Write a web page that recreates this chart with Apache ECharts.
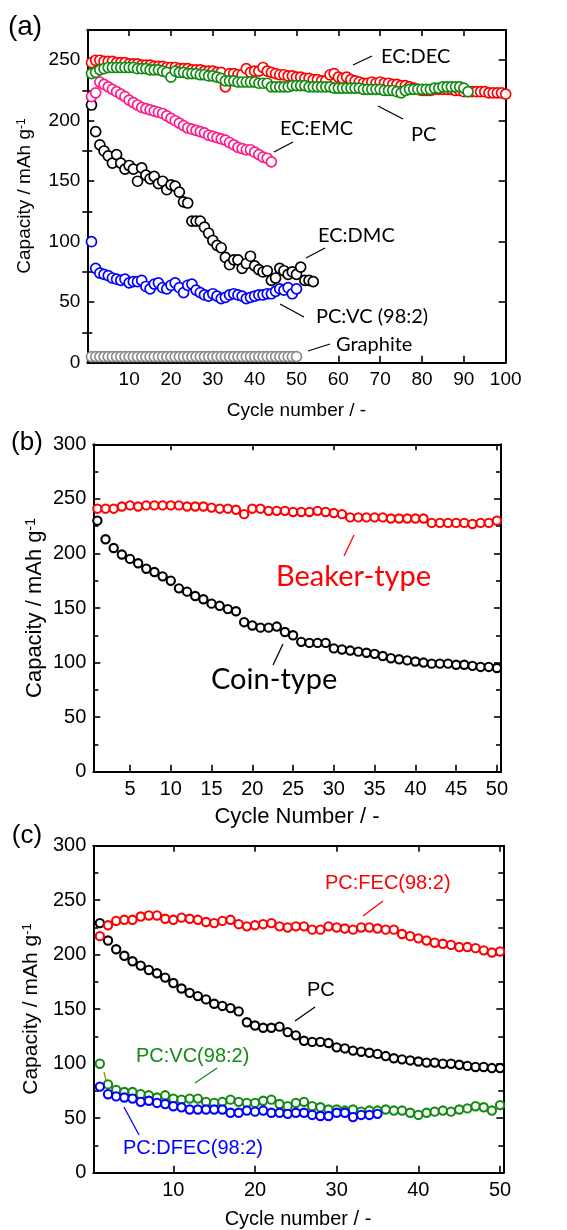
<!DOCTYPE html>
<html>
<head>
<meta charset="utf-8">
<script src="https://cdn.jsdelivr.net/npm/echarts@6/dist/echarts.min.js"></script>
<style>
  html, body { margin: 0; padding: 0; background: #fff; }
  #chart { width: 567px; height: 1230px; }
</style>
</head>
<body>
<div id="chart"></div>
<script>
// ---- (a) discharge capacity vs cycle for several electrolytes ----
const ecDec = [248,250,250,249,249,249,248,248,248,247,
  247,247,246,246,246,245,245,245,244,244,
  244,243,243,243,242,242,242,241,241,241,
  240,240,228,239,239,238,238,243,240,241,
  241,244,241,240,239,238,238,237,237,236,
  236,235,235,234,234,233,233,238,239,236,
  235,236,234,233,232,231,231,232,231,232,
  231,231,230,230,229,229,228,227,226,225,
  225,225,226,226,226,226,226,225,225,224,
  224,224,224,224,224,223,223,223,223,222];
const pcA = [239,240,242,243,244,244,244,244,244,244,
  244,243,243,243,242,242,242,241,240,236,
  241,240,240,239,239,239,238,238,237,237,
  236,235,233,233,233,232,232,232,232,232,
  231,231,231,228,228,228,228,228,229,229,
  229,229,228,228,228,228,228,228,227,227,
  227,227,227,227,227,226,226,226,226,226,
  225,225,225,224,223,225,226,226,226,226,
  226,226,227,227,228,228,228,228,228,227,
  224];
const ecEmc = [220,223,232,230,228,226,224,222,220,217,
  215,213,211,210,209,208,207,206,204,202,
  200,198,196,194,193,192,191,190,188,187,
  186,185,184,182,180,178,177,176,176,174,
  172,170,169,166];
const ecDmc = [213,191,180,175,171,165,172,165,160,163,
  160,150,161,155,152,154,148,150,143,147,
  146,141,133,132,117,117,117,112,107,101,
  97,95,87,81,85,85,78,82,88,80,
  77,75,76,68,70,78,76,73,75,73,
  79,68,68,67];
const pcVcA = [100,78,74,73,72,70,69,68,69,66,
  67,67,68,63,61,65,66,62,61,64,
  66,62,58,64,65,60,58,56,55,57,
  55,53,54,56,57,56,55,53,54,55,
  56,56,57,57,59,61,60,62,57,61];
const graphite = [5,5,5,5,5,5,5,5,5,5,
  5,5,5,5,5,5,5,5,5,5,
  5,5,5,5,5,5,5,5,5,5,
  5,5,5,5,5,5,5,5,5,5,
  5,5,5,5,5,5,5,5,5,5];

// ---- (b) beaker cell vs coin cell ----
const beaker = [241,241,241,243,244,243,244,244,244,244,
  244,243,243,243,242,241,241,240,236,241,
  241,239,239,239,238,238,238,239,238,237,
  236,233,233,233,233,233,232,232,232,232,
  232,228,228,228,228,228,227,228,228,230];
const coin = [230,213,205,199,195,191,186,183,179,175,
  168,165,161,158,154,152,149,147,137,134,
  132,132,133,128,125,119,118,118,118,113,
  112,111,110,109,108,106,104,103,102,101,
  100,99,99,99,98,98,97,96,96,95];

// ---- (c) PC with 2 % additives ----
const pcFec = [217,227,231,232,232,235,236,236,233,232,
  234,233,232,230,229,231,232,228,226,227,
  228,229,226,225,226,226,223,223,226,225,
  224,223,225,225,224,223,223,219,217,215,
  213,211,210,209,207,207,206,204,202,203];
const pcC = [229,213,205,199,194,190,186,183,179,174,
  169,165,162,159,155,153,151,148,138,135,
  133,133,134,129,126,121,120,120,119,115,
  114,112,111,110,109,107,105,104,103,102,
  101,101,100,100,99,98,97,97,96,96];
const pcVcC = [100,81,76,74,74,72,71,69,71,68,
  67,68,68,65,64,65,67,65,64,64,
  66,67,63,61,64,65,61,60,58,58,
  57,58,56,57,57,58,57,57,55,53,
  55,56,57,56,58,59,61,60,57,62];
const pcDfec = [79,72,70,69,68,65,66,64,63,61,
  60,58,58,58,58,58,55,55,57,56,
  57,55,55,54,55,55,53,52,52,55,
  55,51,53,53,54];

// ---- tick values ----
const xTicksA = [10,20,30,40,50,60,70,80,90,100];
const xTopA = [10,20,30,40,50,60,70,80,90];
const yLabelsA = [0,50,100,150,200,250];
const yMinorA = [25,75,125,175,225];
const xTicksB = [5,10,15,20,25,30,35,40,45,50];
const xTopB = [10,20,30,40,50];
const xTicksC = [10,20,30,40,50];
const yLabelsBC = [0,50,100,150,200,250,300];
const yMinorBC = [25,75,125,175,225,275];

const BLACK = '#000';
const NUM_FONT = 'Liberation Sans, Arial, sans-serif';
const NOTE_FONT = 'Lato, sans-serif';

function xPair(grid, min, max, labels, top, fs) {
  const line = { show: true, onZero: false, lineStyle: { color: BLACK, width: 2 } };
  return [
    { gridIndex: grid, type: 'value', position: 'bottom', min, max,
      axisLine: line,
      axisTick: { show: true, inside: true, length: 7, customValues: labels, lineStyle: { color: BLACK, width: 1.6 } },
      axisLabel: { show: true, customValues: labels, color: BLACK, fontSize: fs, fontFamily: NUM_FONT, margin: 8 },
      splitLine: { show: false } },
    { gridIndex: grid, type: 'value', position: 'top', min, max,
      axisLine: line,
      axisTick: { show: true, inside: true, length: 6, customValues: top, lineStyle: { color: BLACK, width: 1.6 } },
      axisLabel: { show: false }, splitLine: { show: false } }
  ];
}

function yQuad(grid, min, max, labels, minor, fs) {
  const line = { show: true, onZero: false, lineStyle: { color: BLACK, width: 2 } };
  const base = { gridIndex: grid, type: 'value', min, max, splitLine: { show: false } };
  return [
    Object.assign({}, base, { position: 'left', axisLine: line,
      axisTick: { show: true, inside: true, length: 7, customValues: labels, lineStyle: { color: BLACK, width: 1.6 } },
      axisLabel: { show: true, customValues: labels, color: BLACK, fontSize: fs, fontFamily: NUM_FONT, margin: 7 } }),
    Object.assign({}, base, { position: 'right', axisLine: line,
      axisTick: { show: true, inside: true, length: 7, customValues: labels, lineStyle: { color: BLACK, width: 1.6 } },
      axisLabel: { show: false } }),
    Object.assign({}, base, { position: 'left', axisLine: { show: false },
      axisTick: { show: true, inside: true, length: 5, customValues: minor, lineStyle: { color: BLACK, width: 1.6 } },
      axisLabel: { show: false } }),
    Object.assign({}, base, { position: 'right', axisLine: { show: false },
      axisTick: { show: true, inside: true, length: 5, customValues: minor, lineStyle: { color: BLACK, width: 1.6 } },
      axisLabel: { show: false } })
  ];
}

function dots(name, vals, color, xi, yi, size, bw) {
  return {
    name, type: 'scatter', xAxisIndex: xi, yAxisIndex: yi,
    data: vals.map((v, i) => [i + 1, v]),
    symbol: 'circle', symbolSize: size,
    itemStyle: { color: '#fff', borderColor: color, borderWidth: bw, opacity: 1 },
    emphasis: { disabled: true }, silent: true
  };
}

function note(text, x, y, color, size, family) {
  return { type: 'text', x, y, silent: true,
    style: { text, fill: color, fontSize: size, fontFamily: family, align: 'left', verticalAlign: 'middle' } };
}
function lead(x1, y1, x2, y2, color) {
  return { type: 'line', silent: true, shape: { x1, y1, x2, y2 }, style: { stroke: color, lineWidth: 1.3 } };
}
function yTitle(x, y, size) {
  return { type: 'text', x, y, rotation: Math.PI / 2, silent: true,
    style: { text: '{n|Capacity / mAh g}{s|-1}', fill: BLACK, align: 'center', verticalAlign: 'middle',
      rich: {
        n: { fontSize: size, fontFamily: NUM_FONT, fill: BLACK, verticalAlign: 'bottom' },
        s: { fontSize: Math.round(size * 0.62), fontFamily: NUM_FONT, fill: BLACK, verticalAlign: 'top' }
      } } };
}
function plain(text, x, y, size, align) {
  return { type: 'text', x, y, silent: true,
    style: { text, fill: BLACK, fontSize: size, fontFamily: NUM_FONT, align: align || 'center', verticalAlign: 'middle' } };
}

const RED = '#ff0000', GREEN = '#138a13', PINK = '#ff1a8c', BLUE = '#0000ff', GREY = '#8c8c8c';

const option = {
  animation: false,
  backgroundColor: '#fff',
  grid: [
    { left: 87.3, top: 30, width: 418.4, height: 332.7, outerBoundsMode: 'none' },
    { left: 93.3, top: 444.3, width: 407.7, height: 327.4, outerBoundsMode: 'none' },
    { left: 93.3, top: 845.7, width: 410, height: 327, outerBoundsMode: 'none' }
  ],
  xAxis: [].concat(
    xPair(0, 0, 100, xTicksA, xTopA, 19),
    xPair(1, 0.5, 50.5, xTicksB, xTopB, 20),
    xPair(2, 0.2, 50.4, xTicksC, xTicksC, 20)
  ),
  yAxis: [].concat(
    yQuad(0, 0, 275, yLabelsA, yMinorA, 19),
    yQuad(1, 0, 300, yLabelsBC, yMinorBC, 20),
    yQuad(2, 0, 300, yLabelsBC, yMinorBC, 20)
  ),
  series: [
    dots('Graphite', graphite, GREY, 0, 0, 10, 1.7),
    dots('EC:DMC', ecDmc, BLACK, 0, 0, 10, 1.7),
    dots('PC:VC (98:2)', pcVcA, BLUE, 0, 0, 10, 1.7),
    dots('EC:DEC', ecDec, RED, 0, 0, 10, 1.7),
    dots('PC', pcA, GREEN, 0, 0, 10, 1.7),
    dots('EC:EMC', ecEmc, PINK, 0, 0, 10, 1.7),

    dots('Beaker-type', beaker, RED, 2, 4, 8.3, 2.1),
    dots('Coin-type', coin, BLACK, 2, 4, 8.3, 2.1),

    dots('PC', pcC, BLACK, 4, 8, 8.3, 2.1),
    dots('PC:FEC(98:2)', pcFec, RED, 4, 8, 8.3, 2.1),
    dots('PC:VC(98:2)', pcVcC, GREEN, 4, 8, 8.3, 2.1),
    dots('PC:DFEC(98:2)', pcDfec, BLUE, 4, 8, 8.3, 2.1)
  ],
  graphic: [
    // panel letters
    plain('(a)', 25, 27, 28),
    plain('(b)', 27, 443, 26),
    plain('(c)', 27, 836, 26),
    // axis titles
    yTitle(25, 196, 19),
    yTitle(35, 608, 22),
    yTitle(31, 1009, 21),
    plain('Cycle number / -', 296.5, 411, 19),
    plain('Cycle Number / -', 297, 817, 22),
    plain('Cycle number / -', 298, 1219, 20),
    // (a) series notes
    lead(353, 65, 372, 56, BLACK), note('EC:DEC', 381, 57, BLACK, 20, NOTE_FONT),
    lead(378, 106, 403, 119, BLACK), note('PC', 411, 135, BLACK, 20, NOTE_FONT),
    lead(274, 152, 293, 142, BLACK), note('EC:EMC', 280, 129, BLACK, 20, NOTE_FONT),
    lead(306, 258, 325, 248, BLACK), note('EC:DMC', 318, 236, BLACK, 20, NOTE_FONT),
    lead(280, 304, 304, 317, BLACK), note('PC:VC (98:2)', 316, 317, BLACK, 20, NOTE_FONT),
    lead(308, 351, 330, 344, BLACK), note('Graphite', 336, 345, BLACK, 20, NOTE_FONT),
    // (b) notes
    lead(354, 535, 344, 556, RED), note('Beaker-type', 276, 577, RED, 29, NOTE_FONT),
    lead(283, 644, 273, 665, BLACK), note('Coin-type', 211, 680, BLACK, 29, NOTE_FONT),
    // (c) notes
    lead(383, 901, 363, 916, RED), note('PC:FEC(98:2)', 325, 883, RED, 20, NUM_FONT),
    lead(315, 1007, 295, 1021, BLACK), note('PC', 307, 990, BLACK, 20, NUM_FONT),
    lead(195, 1083, 217, 1068, GREEN), note('PC:VC(98:2)', 136, 1056, GREEN, 20, NUM_FONT),
    lead(104, 1072, 106, 1080, '#9a8a00'),
    lead(124, 1107, 139, 1135, BLUE), note('PC:DFEC(98:2)', 123, 1148, BLUE, 20, NUM_FONT)
  ]
};

const chart = echarts.init(document.getElementById('chart'), null, { renderer: 'canvas' });
chart.setOption(option);
</script>
</body>
</html>
